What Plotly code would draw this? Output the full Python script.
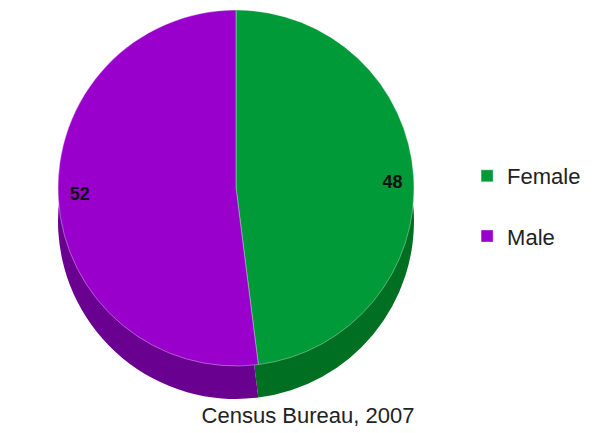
import plotly.graph_objects as go

# Data
categories = ["Female", "Male"]
values = [48, 52]
legend_labels = ["Female<br>", "Male"]
top_colors = ["#009a38", "#9900cc"]
side_colors = ["#006f22", "#6a008f"]
source_text = "Census Bureau, 2007"

W, H = 597, 433
cx, cy, r, depth = 228, 180, 178, 33

def dom(cy_px):
    return dict(
        x=[(cx - r) / W, (cx + r) / W],
        y=[max(0, 1 - (cy_px + r) / H), min(1, 1 - (cy_px - r) / H)],
    )

pad = "\u00a0" * 27
text_templates = [pad + "%{value}", "%{value}" + pad]

fig = go.Figure()
# depth (side) face
fig.add_trace(go.Pie(
    labels=legend_labels, values=values, sort=False, direction="clockwise", rotation=0,
    marker=dict(colors=side_colors, line=dict(width=0)),
    textinfo="none", hoverinfo="skip", showlegend=False, domain=dom(cy + depth),
))
# top face
fig.add_trace(go.Pie(
    labels=legend_labels, values=values, sort=False, direction="clockwise", rotation=0,
    customdata=categories,
    marker=dict(colors=top_colors, line=dict(width=1, color="rgba(255,255,255,0.35)")),
    texttemplate=text_templates, textposition="inside", insidetextorientation="horizontal",
    textfont=dict(family="Liberation Sans, Arial, sans-serif", size=18, color="#111111", weight="bold"),
    hovertemplate="%{customdata}: %{value}<extra></extra>",
    domain=dom(cy),
))

fig.update_layout(
    width=W, height=H,
    margin=dict(l=0, r=0, t=0, b=0),
    paper_bgcolor="white",
    font=dict(family="Liberation Sans, Arial, sans-serif", color="#222222"),
    legend=dict(x=0.769, y=1 - 147 / H, xanchor="left", yanchor="top", valign="top",
                font=dict(size=22), itemwidth=30),
    title=dict(text=source_text, x=0.5025, xanchor="center", y=1 - 407 / H, yanchor="middle",
               font=dict(size=22, color="#222222")),
)

fig.write_html("out.html")
